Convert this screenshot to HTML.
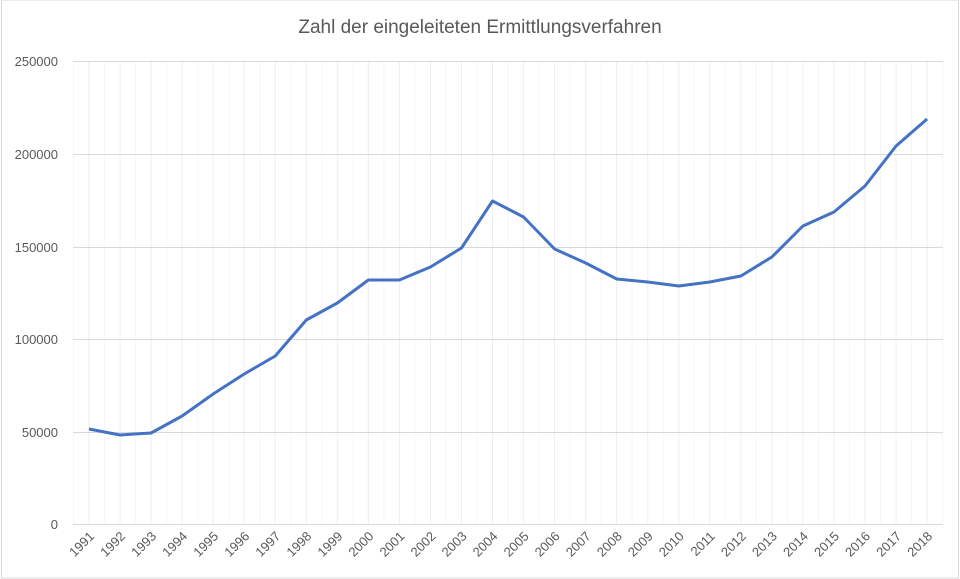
<!DOCTYPE html><html><head><style>body{margin:0;background:#fff}svg{display:block}text{font-family:"Liberation Sans",sans-serif;fill:#595959}</style></head><body>
<svg width="960" height="579" viewBox="0 0 960 579">
<rect x="1.5" y="0" width="957" height="578" fill="none" stroke="#d9d9d9"/>
<text x="480" y="33" font-size="19" text-anchor="middle">Zahl der eingeleiteten Ermittlungsverfahren</text>
<g id="v" stroke="#eeeeee"></g>
<g stroke="#d9d9d9">
<line x1="73" y1="61.5" x2="943" y2="61.5"/><line x1="73" y1="154.5" x2="943" y2="154.5"/><line x1="73" y1="247.5" x2="943" y2="247.5"/><line x1="73" y1="339.5" x2="943" y2="339.5"/><line x1="73" y1="432.5" x2="943" y2="432.5"/><line x1="73" y1="524.5" x2="943" y2="524.5"/>
</g>
<g font-size="13" text-anchor="end">
<text x="58" y="66">250000</text><text x="58" y="159">200000</text><text x="58" y="252">150000</text><text x="58" y="344">100000</text><text x="58" y="437">50000</text><text x="58" y="529">0</text>
</g>
<g id="xl" font-size="13"></g>
<polyline id="ln" fill="none" stroke="#4472c4" stroke-width="3" stroke-linejoin="round" points=""/>
</svg>
<script>
var ys=[429,435,433,416,394,374,356,320,303,280,280,267,248,201,217,249,263,279,282,286,282,276,257,226,212,186,146,119];
var ns="http://www.w3.org/2000/svg",v=document.getElementById('v'),xl=document.getElementById('xl'),pts=[];
for(var i=0;i<=28;i++){var x=73.5+31.04*i;var l=document.createElementNS(ns,'line');l.setAttribute('x1',x);l.setAttribute('x2',x);l.setAttribute('y1',62);l.setAttribute('y2',524);l.setAttribute('stroke','#f6f6f6');v.appendChild(l);}
for(var i=0;i<28;i++){var x=89+31.04*i;var l=document.createElementNS(ns,'line');l.setAttribute('x1',x);l.setAttribute('x2',x);l.setAttribute('y1',62);l.setAttribute('y2',524);v.appendChild(l);
pts.push(x+','+ys[i]);var t=document.createElementNS(ns,'text');t.setAttribute('transform','translate('+(x+6)+',537) rotate(-45)');t.setAttribute('text-anchor','end');t.textContent=1991+i;xl.appendChild(t);}
document.getElementById('ln').setAttribute('points',pts.join(' '));
</script>
</body></html>
